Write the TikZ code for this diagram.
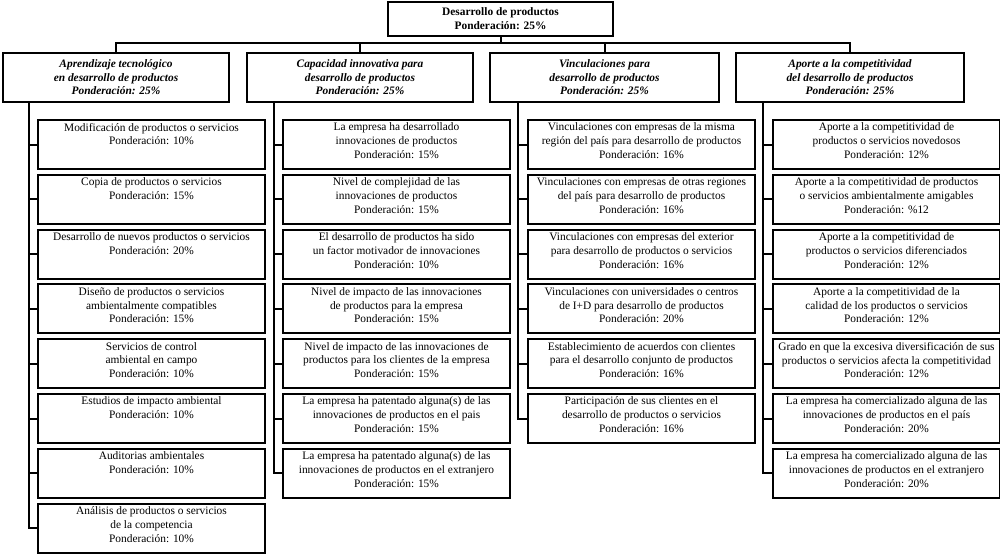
\documentclass[tikz,border=0pt]{standalone}
\usepackage{fontspec}
\setmainfont{Liberation Serif}
\newcommand{\cbx}[1]{\parbox[t][43pt][t]{225pt}{\centering #1}}
\begin{document}
\begin{tikzpicture}[x=1pt,y=-1pt,
  txt/.style={font=\fontsize{11.4}{13.8}\selectfont},
  box/.style={draw, line width=2pt, inner xsep=1pt, inner ysep=3pt, anchor=north west, txt},
  head/.style={draw, line width=2pt, inner sep=0pt, anchor=north west, align=center, txt},
  con/.style={line width=2pt}]
\useasboundingbox (0,0) rectangle (1000,554);
% top
\node[head, minimum width=225pt, minimum height=34pt, font=\fontsize{11.4}{13.8}\selectfont\bfseries] (T) at (387,1) {Desarrollo de productos\\Ponderación: 25\%};
% level 1
\tikzset{lone/.style={head, minimum width=226pt, minimum height=49pt, font=\fontsize{11.4}{13.5}\selectfont\bfseries\itshape}}
\node[lone] (A) at (2,52) {Aprendizaje tecnológico\\en desarrollo de productos\\Ponderación: 25\%};
\node[lone] (B) at (246,52) {Capacidad innovativa para\\desarrollo de productos\\Ponderación: 25\%};
\node[lone, minimum width=229pt] (C) at (489,52) {Vinculaciones para\\desarrollo de productos\\Ponderación: 25\%};
\node[lone, minimum width=228pt] (D) at (735,52) {Aporte a la competitividad\\del desarrollo de productos\\Ponderación: 25\%};
\coordinate (bus) at (0,43);
\draw[con] (A.north) -- (A.north |- bus) -- (D.north |- bus) -- (D.north);
\draw[con] (B.north) -- (B.north |- bus);
\draw[con] (C.north) -- (C.north |- bus);
\draw[con] (T.south) -- (T.south |- bus);
% column 1
\node[box] (a1) at (37,119) {\cbx{Modificación de productos o servicios\\Ponderación: 10\%}};
\node[box] (a2) at (37,173.8) {\cbx{Copia de productos o servicios\\Ponderación: 15\%}};
\node[box] (a3) at (37,228.6) {\cbx{Desarrollo de nuevos productos o servicios\\Ponderación: 20\%}};
\node[box] (a4) at (37,283.4) {\cbx{Diseño de productos o servicios\\ambientalmente compatibles\\Ponderación: 15\%}};
\node[box] (a5) at (37,338.2) {\cbx{Servicios de control\\ambiental en campo\\Ponderación: 10\%}};
\node[box] (a6) at (37,393) {\cbx{Estudios de impacto ambiental\\Ponderación: 10\%}};
\node[box] (a7) at (37,447.8) {\cbx{Auditorias ambientales\\Ponderación: 10\%}};
\node[box] (a8) at (37,502.6) {\cbx{Análisis de productos o servicios\\de la competencia\\Ponderación: 10\%}};
% column 2
\node[box] (b1) at (282,119) {\cbx{La empresa ha desarrollado\\innovaciones de productos\\Ponderación: 15\%}};
\node[box] (b2) at (282,173.8) {\cbx{Nivel de complejidad de las\\innovaciones de productos\\Ponderación: 15\%}};
\node[box] (b3) at (282,228.6) {\cbx{El desarrollo de productos ha sido\\un factor motivador de innovaciones\\Ponderación: 10\%}};
\node[box] (b4) at (282,283.4) {\cbx{Nivel de impacto de las innovaciones\\de productos para la empresa\\Ponderación: 15\%}};
\node[box] (b5) at (282,338.2) {\cbx{Nivel de impacto de las innovaciones de\\productos para los clientes de la empresa\\Ponderación: 15\%}};
\node[box] (b6) at (282,393) {\cbx{La empresa ha patentado alguna(s) de las\\innovaciones de productos en el pais\\Ponderación: 15\%}};
\node[box] (b7) at (282,447.8) {\cbx{La empresa ha patentado alguna(s) de las\\innovaciones de productos en el extranjero\\Ponderación: 15\%}};
% column 3
\node[box] (c1) at (527,119) {\cbx{Vinculaciones con empresas de la misma\\región del país para desarrollo de productos\\Ponderación: 16\%}};
\node[box] (c2) at (527,173.8) {\cbx{Vinculaciones con empresas de otras regiones\\del país para desarrollo de productos\\Ponderación: 16\%}};
\node[box] (c3) at (527,228.6) {\cbx{Vinculaciones con empresas del exterior\\para desarrollo de productos o servicios\\Ponderación: 16\%}};
\node[box] (c4) at (527,283.4) {\cbx{Vinculaciones con universidades o centros\\de I+D para desarrollo de productos\\Ponderación: 20\%}};
\node[box] (c5) at (527,338.2) {\cbx{Establecimiento de acuerdos con clientes\\para el desarrollo conjunto de productos\\Ponderación: 16\%}};
\node[box] (c6) at (527,393) {\cbx{Participación de sus clientes en el\\desarrollo de productos o servicios\\Ponderación: 16\%}};
% column 4
\node[box] (d1) at (772,119) {\cbx{Aporte a la competitividad de\\productos o servicios novedosos\\Ponderación: 12\%}};
\node[box] (d2) at (772,173.8) {\cbx{Aporte a la competitividad de productos\\o servicios ambientalmente amigables\\Ponderación: \%12}};
\node[box] (d3) at (772,228.6) {\cbx{Aporte a la competitividad de\\productos o servicios diferenciados\\Ponderación: 12\%}};
\node[box] (d4) at (772,283.4) {\cbx{Aporte a la competitividad de la\\calidad de los productos o servicios\\Ponderación: 12\%}};
\node[box] (d5) at (772,338.2) {\cbx{Grado en que la excesiva diversificación de sus\\productos o servicios afecta la competitividad\\Ponderación: 12\%}};
\node[box] (d6) at (772,393) {\cbx{La empresa ha comercializado alguna de las\\innovaciones de productos en el país\\Ponderación: 20\%}};
\node[box] (d7) at (772,447.8) {\cbx{La empresa ha comercializado alguna de las\\innovaciones de productos en el extranjero\\Ponderación: 20\%}};
% column connectors
\coordinate (av) at (29,0);
\coordinate (bv) at (274,0);
\coordinate (cv) at (518,0);
\coordinate (dv) at (763,0);
\draw[con] (A.south -| av) -- (a8.west -| av) -- (a8.west);
\foreach \i in {1,...,7} \draw[con] (a\i.west -| av) -- (a\i.west);
\draw[con] (B.south -| bv) -- (b7.west -| bv) -- (b7.west);
\foreach \i in {1,...,6} \draw[con] (b\i.west -| bv) -- (b\i.west);
\draw[con] (C.south -| cv) -- (c6.west -| cv) -- (c6.west);
\foreach \i in {1,...,5} \draw[con] (c\i.west -| cv) -- (c\i.west);
\draw[con] (D.south -| dv) -- (d7.west -| dv) -- (d7.west);
\foreach \i in {1,...,6} \draw[con] (d\i.west -| dv) -- (d\i.west);
\end{tikzpicture}
\end{document}
